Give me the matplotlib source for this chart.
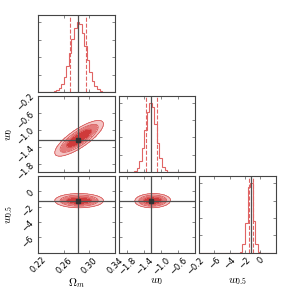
import matplotlib
matplotlib.use("Agg")
import matplotlib.pyplot as plt
from matplotlib.ticker import MaxNLocator
import numpy as np

plt.rcParams["mathtext.fontset"] = "cm"

labels = [r"$\Omega_m$", r"$w_0$", r"$w_{0.5}$"]
limits = [(0.22, 0.34), (-2.0, -0.2), (-8.0, 2.0)]
ticks = [[0.22, 0.26, 0.30, 0.34], [-1.8, -1.4, -1.0, -0.6, -0.2], [-6, -4, -2, 0]]
truths = [0.283, -1.25, -1.2]
q16 = [0.2704, -1.365, -1.42]
q84 = [0.2943, -1.106, -1.0]

# 1d histogram heights, 30 bins across each range
hist_om = [0, 0, 0, 0, 0, 0.3, 0.9, 2.3, 5.4, 11.5, 21.6, 36.5, 55.7, 75.5, 91.6,
           99.7, 97.0, 84.5, 65.5, 45.8, 28.7, 15.8, 8.0, 3.6, 1.4, 0.5, 0.1, 0, 0, 0]
hist_w0 = [0, 0, 0, 0, 0, 0.4, 1.7, 5.9, 15.8, 34.4, 60.6, 86.5, 99.7, 92.9, 69.9,
           42.4, 20.9, 8.3, 2.7, 0.7, 0.1, 0, 0, 0, 0, 0, 0, 0, 0, 0]
hist_w05 = [0, 0, 0, 0, 0, 0, 0, 0, 0, 0, 0, 0, 0, 0, 0, 0, 0.5,
            12, 43, 95, 100, 45, 13, 1, 0, 0, 0, 0, 0, 0]
hists = [hist_om, hist_w0, hist_w05]

# 2d contour shapes: centre, spread and correlation of each pair
means = [0.284, -1.2, -1.2]
sigmas = [0.0127, 0.14, 0.31]
corr = {(1, 0): 0.8, (2, 0): 0.0, (2, 1): 0.05}
sig_levels = [1.55, 2.35, 3.0]

fill_cols = ["#cf3a3a", "#e47b7b", "#f4c4c4"]
line_col = "#d24848"
hist_col = "#e06464"
truth_col = "#505050"

fig, axes = plt.subplots(3, 3, figsize=(2.91, 2.91), dpi=100)
fig.subplots_adjust(left=0.1316, right=0.947, bottom=0.1316, top=0.947,
                    wspace=0.05, hspace=0.05)

K = 3
for i in range(K):
    for j in range(K):
        ax = axes[i, j]
        if j > i:
            ax.set_axis_off()
            continue
        for sp in ax.spines.values():
            sp.set_color("#444444")
            sp.set_linewidth(0.8)
        ax.tick_params(direction="in", top=True, right=True, length=2,
                       width=0.5, labelsize=6, pad=2, color="#555555")
        ax.set_xlim(limits[j])
        ax.set_xticks(ticks[j])
        if i == j:
            edges = np.linspace(limits[i][0], limits[i][1], len(hists[i]) + 1)
            ax.stairs(hists[i], edges, color=hist_col, lw=0.8)
            ax.set_ylim(0, 1.1 * max(hists[i]))
            ax.yaxis.set_major_locator(MaxNLocator(5))
            ax.set_yticklabels([])
            ax.axvline(q16[i], color=hist_col, ls="--", lw=0.8)
            ax.axvline(q84[i], color=hist_col, ls="--", lw=0.8)
            ax.axvline(truths[i], color=truth_col, lw=0.9)
        else:
            ax.set_ylim(limits[i])
            ax.set_yticks(ticks[i])
            xs = np.linspace(limits[j][0], limits[j][1], 300)
            ys = np.linspace(limits[i][0], limits[i][1], 300)
            X, Y = np.meshgrid(xs, ys)
            zx = (X - means[j]) / sigmas[j]
            zy = (Y - means[i]) / sigmas[i]
            rho = corr[(i, j)]
            d2 = (zx ** 2 - 2 * rho * zx * zy + zy ** 2) / (1 - rho ** 2)
            lv = [0] + [s ** 2 for s in sig_levels]
            ax.contourf(X, Y, d2, levels=lv, colors=fill_cols)
            ax.contour(X, Y, d2, levels=lv[1:], colors=line_col, linewidths=0.5)
            ax.axvline(truths[j], color=truth_col, lw=0.9)
            ax.axhline(truths[i], color=truth_col, lw=0.9)
            ax.plot(truths[j], truths[i], "s", color="#333333", ms=3.5)
        if i < K - 1:
            ax.set_xticklabels([])
        else:
            for t in ax.get_xticklabels():
                t.set_rotation(45)
            ax.set_xlabel(labels[j], fontsize=8)
            ax.xaxis.set_label_coords(0.5, -0.3)
        if j > 0 or i == 0:
            if i != j:
                ax.set_yticklabels([])
        else:
            for t in ax.get_yticklabels():
                t.set_rotation(45)
            ax.set_ylabel(labels[i], fontsize=8)
            ax.yaxis.set_label_coords(-0.3, 0.5)

fig.savefig("out.png", dpi=100)
